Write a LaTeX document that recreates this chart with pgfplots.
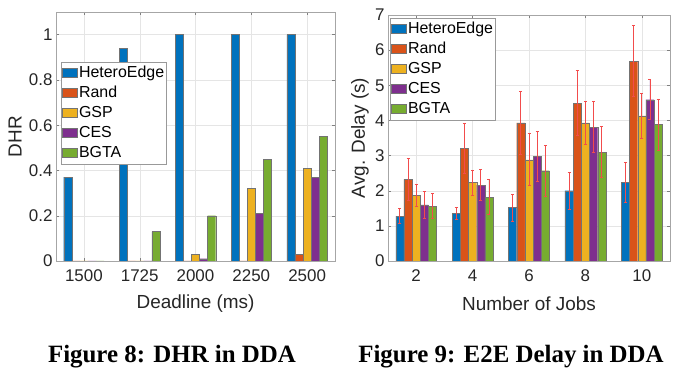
\documentclass[border=0pt]{standalone}
\usepackage{pgfplots}
\usepackage{pgfplotstable}
\pgfplotsset{compat=1.18}
\usepackage{fontspec}
\setmainfont{Liberation Sans}
\newfontfamily\capfont{Liberation Serif}
\definecolor{cA}{rgb}{0,0.447,0.741}
\definecolor{cB}{rgb}{0.85,0.325,0.098}
\definecolor{cC}{rgb}{0.929,0.694,0.125}
\definecolor{cD}{rgb}{0.494,0.184,0.556}
\definecolor{cE}{rgb}{0.466,0.674,0.188}
\definecolor{errc}{rgb}{0.95,0.3,0.3}
% Figure 9 data: x, mean, error
\pgfplotstableread{
x y e
1 1.28 0.21
2 1.35 0.17
3 1.52 0.38
4 2.00 0.53
5 2.24 0.57
}\heteroedge
\pgfplotstableread{
x y e
1 2.32 0.60
2 3.20 0.72
3 3.93 0.89
4 4.49 0.92
5 5.69 1.01
}\rand
\pgfplotstableread{
x y e
1 1.87 0.31
2 2.23 0.36
3 2.88 0.74
4 3.93 0.61
5 4.13 0.65
}\gsp
\pgfplotstableread{
x y e
1 1.60 0.39
2 2.16 0.44
3 2.97 0.71
4 3.81 0.73
5 4.59 0.57
}\ces
\pgfplotstableread{
x y e
1 1.56 0.36
2 1.82 0.50
3 2.57 0.72
4 3.10 0.72
5 3.88 0.73
}\bgta
\pgfplotsset{
  mybar/.style={ybar, bar width=0.145, bar shift=0, draw=black!55, line width=0.3bp,
    legend image code/.code={\draw[##1,draw=black!55] (0bp,-4bp) rectangle (15bp,5bp);}},
  myerr/.style={error bars/.cd, y dir=both, y explicit,
    error bar style={solid, draw=errc, line width=0.8bp},
    error mark options={rotate=90, mark size=1.5bp, draw=errc, line width=0.8bp}},
  mystyle/.style={scale only axis, axis line style={draw=black!35},
    grid=major, grid style={black!10, line width=0.4bp},
    tick style={black!50, line width=0.4bp}, major tick length=3bp, tick align=inside,
    xmin=0.5, xmax=5.5, xtick={1,2,3,4,5},
    ticklabel style={font=\fontsize{17}{17}\selectfont, text=black!85},
    xticklabel style={yshift=-5bp},
    label style={font=\fontsize{19}{19}\selectfont, text=black!85},
    xlabel style={at={(axis description cs:0.5,0)}, anchor=center, yshift=-43bp},
    ylabel style={at={(axis description cs:0,0.5)}, anchor=center},
    legend cell align=left,
    legend style={draw=black!40, fill=white, line width=0.5bp, anchor=north west,
      font=\fontsize{16}{16}\selectfont, inner sep=1bp, row sep=0bp,
      nodes={inner sep=1.5bp, text height=13bp, text depth=4bp}},
    /pgf/number format/assume math mode=true}
}
\begin{document}
\begin{tikzpicture}
\useasboundingbox (0bp,0bp) rectangle (681bp,378bp);
% Left plot
\begin{axis}[mystyle, at={(56bp,117bp)}, anchor=south west, width=279bp, height=249bp,
  ymin=0, ymax=1.1, ytick={0,0.2,0.4,0.6,0.8,1}, yticklabels={0,0.2,0.4,0.6,0.8,1},
  xticklabels={1500,1725,2000,2250,2500},
  xlabel={Deadline (ms)}, ylabel={DHR}, ylabel style={yshift=41bp},
  legend style={at={(axis description cs:0.018,0.799)}}]
\addplot[mybar, bar shift=-0.29, fill=cA] coordinates {(1,0.37) (2,0.94) (3,1) (4,1) (5,1)};
\addplot[mybar, bar shift=-0.145, fill=cB] coordinates {(1,0) (2,0) (3,0) (4,0) (5,0.03)};
\addplot[mybar, bar shift=0, fill=cC] coordinates {(1,0) (2,0) (3,0.03) (4,0.32) (5,0.41)};
\addplot[mybar, bar shift=0.145, fill=cD] coordinates {(1,0) (2,0) (3,0.01) (4,0.21) (5,0.37)};
\addplot[mybar, bar shift=0.29, fill=cE] coordinates {(1,0) (2,0.13) (3,0.2) (4,0.45) (5,0.55)};
\legend{HeteroEdge,Rand,GSP,CES,BGTA}
\end{axis}
% Right plot
\begin{axis}[mystyle, at={(388bp,117bp)}, anchor=south west, width=282bp, height=246bp,
  ymin=0, ymax=7, ytick={0,1,...,7}, yticklabels={0,1,2,3,4,5,6,7},
  xticklabels={2,4,6,8,10},
  xlabel={Number of Jobs}, ylabel={Avg. Delay (s)}, ylabel style={yshift=28bp},
  legend style={at={(axis description cs:0.007,0.988)}}]
\addplot[mybar, fill=cA, myerr] table[x expr=\thisrow{x}-0.29, y=y, y error=e] {\heteroedge};
\addplot[mybar, fill=cB, myerr] table[x expr=\thisrow{x}-0.145, y=y, y error=e] {\rand};
\addplot[mybar, fill=cC, myerr] table[x expr=\thisrow{x}, y=y, y error=e] {\gsp};
\addplot[mybar, fill=cD, myerr] table[x expr=\thisrow{x}+0.145, y=y, y error=e] {\ces};
\addplot[mybar, fill=cE, myerr] table[x expr=\thisrow{x}+0.29, y=y, y error=e] {\bgta};
\legend{HeteroEdge,Rand,GSP,CES,BGTA}
\end{axis}
\node[font=\capfont\bfseries\fontsize{25}{25}\selectfont, anchor=center] at (172bp,21bp) {Figure 8: DHR in DDA};
\node[font=\capfont\bfseries\fontsize{25}{25}\selectfont, anchor=center] at (511bp,21bp) {Figure 9: E2E Delay in DDA};
\end{tikzpicture}
\end{document}
